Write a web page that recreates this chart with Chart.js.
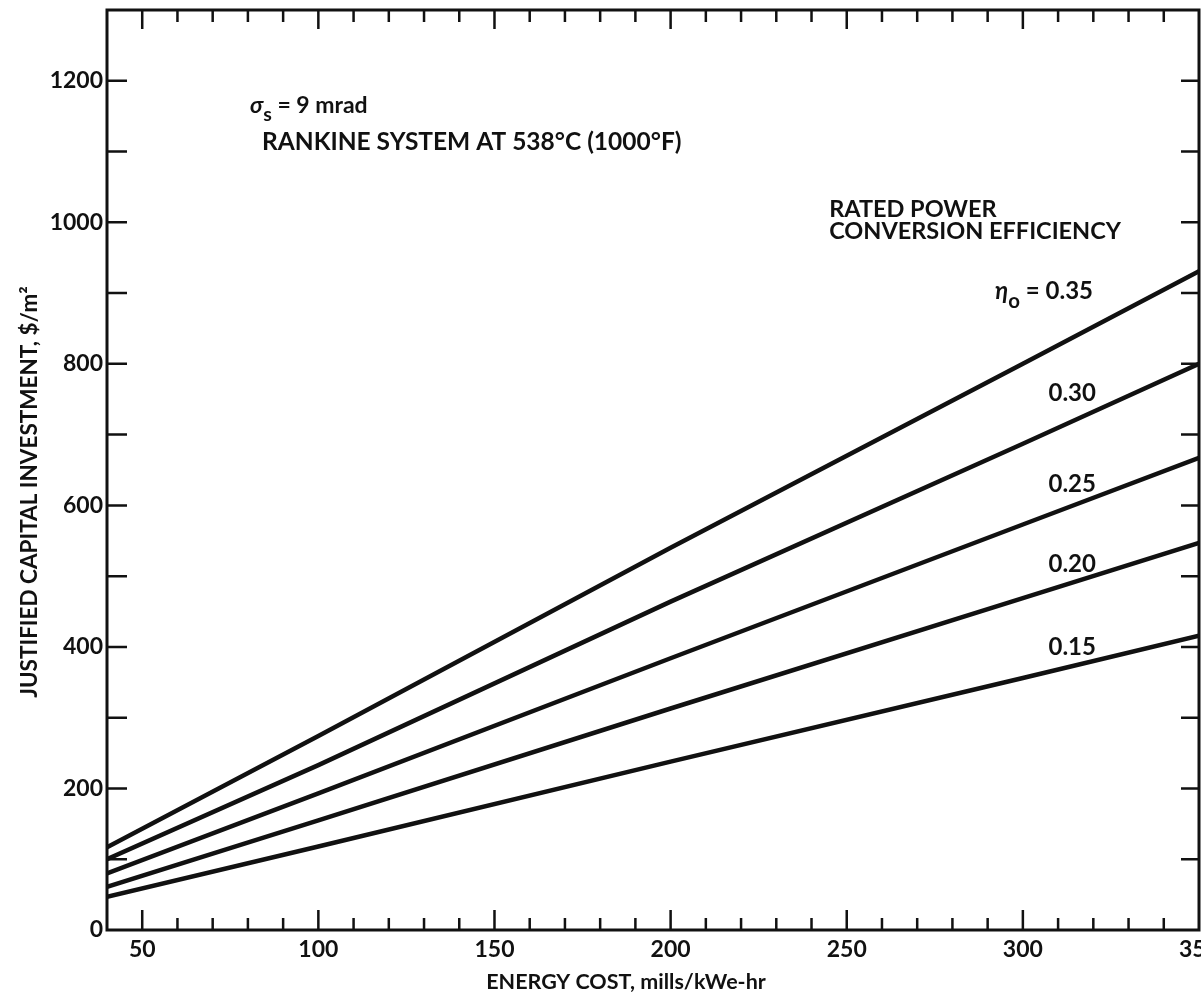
<!DOCTYPE html>
<html>
<head>
<meta charset="utf-8">
<script src="https://cdn.jsdelivr.net/npm/chart.js@4.4.0/dist/chart.umd.min.js"></script>
<style>
  html, body { margin: 0; padding: 0; background: #fff; }
  #wrap { width: 1201px; height: 999px; }
</style>
</head>
<body>
<div id="wrap"><canvas id="chart" width="1201" height="999"></canvas></div>
<script>
// energy cost, mills/kWe-hr
const energyCost = [40, 100, 200, 300, 350];

// justified capital investment, $/m2, one array per efficiency
const eta35 = [117, 274, 540, 800, 931];
const eta30 = [100, 233, 464, 687, 800];
const eta25 = [80, 193, 384, 573, 667];
const eta20 = [61, 155, 313, 469, 547];
const eta15 = [47, 118, 238, 356, 416];

const seriesNames = ["0.35", "0.30", "0.25", "0.20", "0.15"];
const seriesValues = [eta35, eta30, eta25, eta20, eta15];

const yTickLabels = [0, 200, 400, 600, 800, 1000, 1200];
const xTickLabels = [50, 100, 150, 200, 250, 300, 350];

const FONT = "Lato, 'DejaVu Sans', sans-serif";
const INK = "#111";

// text notes placed in data coordinates
const notes = [
  { x: 80.6, y: 1165, size: 23, align: "left", parts: [{ t: "σ", italic: true }, { t: "s", sub: true }, { t: " = 9 mrad" }] },
  { x: 84, y: 1114, size: 24.5, align: "left", parts: [{ t: "RANKINE SYSTEM AT 538°C (1000°F)" }] },
  { x: 245, y: 1018, size: 23.5, align: "left", parts: [{ t: "RATED POWER" }] },
  { x: 245, y: 987, size: 23.5, align: "left", parts: [{ t: "CONVERSION EFFICIENCY" }] },
  { x: 306, y: 902, size: 24, align: "center", parts: [{ t: "η", italic: true }, { t: "o", sub: true }, { t: " = " + seriesNames[0] }] },
  { x: 314, y: 759, size: 24, align: "center", parts: [{ t: seriesNames[1] }] },
  { x: 314, y: 630, size: 24, align: "center", parts: [{ t: seriesNames[2] }] },
  { x: 314, y: 517, size: 24, align: "center", parts: [{ t: seriesNames[3] }] },
  { x: 314, y: 400, size: 24, align: "center", parts: [{ t: seriesNames[4] }] },
];

function drawParts(ctx, parts, x, y, align, size) {
  const fontOf = (p) => (p.italic ? "italic " : "") + "bold " + (p.sub ? size * 0.85 : size) + "px " + FONT;
  let total = 0;
  parts.forEach((p) => { ctx.font = fontOf(p); total += ctx.measureText(p.t).width; });
  let cx = align === "center" ? x - total / 2 : x;
  parts.forEach((p) => {
    ctx.font = fontOf(p);
    ctx.fillText(p.t, cx, p.sub ? y + size * 0.4 : y);
    cx += ctx.measureText(p.t).width;
  });
}

const framePlugin = {
  id: "frame",
  afterDraw(chart) {
    const { ctx, chartArea: a, scales } = chart;
    const xs = scales.x, ys = scales.y;
    ctx.save();
    ctx.strokeStyle = INK;
    ctx.lineWidth = 3;
    ctx.strokeRect(a.left, a.top, a.right - a.left, a.bottom - a.top);

    ctx.lineWidth = 2.5;
    ctx.beginPath();
    xs.ticks.forEach((t) => {
      if (t.value <= xs.min || t.value >= xs.max) return;
      const px = xs.getPixelForValue(t.value);
      const major = t.value % 50 === 0;
      ctx.moveTo(px, a.bottom);
      ctx.lineTo(px, a.bottom - (major ? 20 : 12));
      ctx.moveTo(px, a.top);
      ctx.lineTo(px, a.top + (major ? 19 : 12));
    });
    ys.ticks.forEach((t) => {
      if (t.value <= ys.min || t.value >= ys.max) return;
      const py = ys.getPixelForValue(t.value);
      ctx.moveTo(a.left, py);
      ctx.lineTo(a.left + 20, py);
      ctx.moveTo(a.right, py);
      ctx.lineTo(a.right - 18, py);
    });
    ctx.stroke();

    ctx.fillStyle = INK;
    ctx.textBaseline = "middle";
    ctx.textAlign = "left";
    notes.forEach((n) => {
      drawParts(ctx, n.parts, xs.getPixelForValue(n.x), ys.getPixelForValue(n.y), n.align, n.size);
    });

    // axis titles
    ctx.textAlign = "center";
    ctx.font = "bold 21.5px " + FONT;
    ctx.fillText("ENERGY COST, mills/kWe-hr", 626, 982);
    ctx.save();
    ctx.translate(30, 492);
    ctx.rotate(-Math.PI / 2);
    ctx.font = "bold 22.5px " + FONT;
    ctx.fillText("JUSTIFIED CAPITAL INVESTMENT, $/m²", 0, 0);
    ctx.restore();
    ctx.restore();
  },
};

const datasets = seriesValues.map((vals, i) => ({
  label: seriesNames[i],
  data: energyCost.map((x, j) => ({ x: x, y: vals[j] })),
  borderColor: INK,
  borderWidth: 4.5,
  pointRadius: 0,
  tension: 0,
  fill: false,
}));

const noPad = (s) => { s.paddingTop = 0; s.paddingBottom = 0; s.paddingLeft = 0; s.paddingRight = 0; };

new Chart(document.getElementById("chart"), {
  type: "line",
  data: { datasets: datasets },
  options: {
    responsive: false,
    animation: false,
    layout: { padding: { top: 10, right: 2, left: 0, bottom: 0 } },
    plugins: { legend: { display: false }, tooltip: { enabled: false } },
    scales: {
      x: {
        type: "linear",
        min: 40,
        max: 350,
        grid: { display: false, drawTicks: false, tickLength: 0 },
        border: { display: false },
        ticks: {
          stepSize: 10,
          autoSkip: false,
          maxRotation: 0,
          padding: 6,
          color: INK,
          font: { family: FONT, size: 23, weight: "bold" },
          callback: (v) => (xTickLabels.includes(v) ? String(v) : ""),
        },
        afterFit: (s) => { s.height = 69; noPad(s); },
      },
      y: {
        min: 0,
        max: 1300,
        grid: { display: false, drawTicks: false, tickLength: 0 },
        border: { display: false },
        ticks: {
          stepSize: 100,
          autoSkip: false,
          padding: 4,
          color: INK,
          font: { family: FONT, size: 23, weight: "bold" },
          callback: (v) => (yTickLabels.includes(v) ? String(v) : ""),
        },
        afterFit: (s) => { s.width = 107; noPad(s); },
      },
    },
  },
  plugins: [framePlugin],
});
</script>
</body>
</html>
